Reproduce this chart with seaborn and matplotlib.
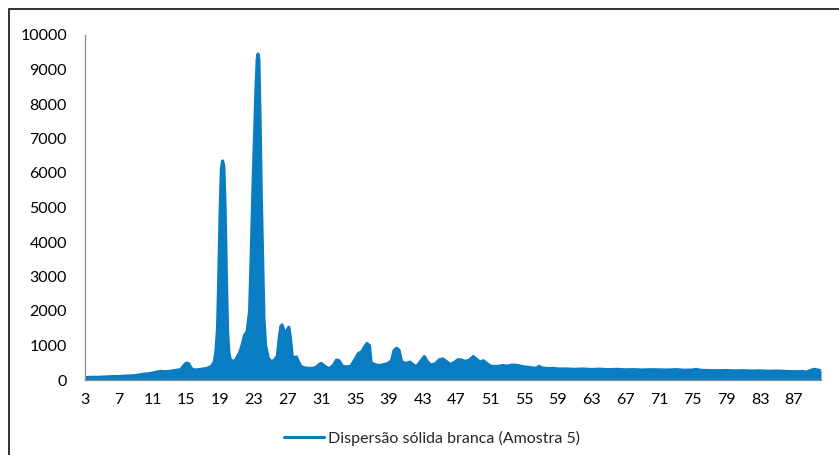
import matplotlib
matplotlib.use("Agg")
import matplotlib.pyplot as plt
import seaborn as sns
import pandas as pd
from matplotlib.patches import Rectangle

# 2-theta (degrees) and intensity (counts)
two_theta = [
    3.0, 3.5, 4.0, 4.5, 5.0, 5.5, 6.0, 6.5, 7.0, 7.5, 8.0, 8.5, 9.0, 9.5,
    10.0, 10.5, 11.0, 11.5, 12.0, 12.5, 13.0, 13.5, 14.0, 14.3, 14.6, 14.9,
    15.1, 15.3, 15.6, 16.0, 16.5, 17.0, 17.5, 18.0, 18.3, 18.5, 18.7, 18.85,
    19.0, 19.15, 19.3, 19.45, 19.6, 19.75, 19.9, 20.05, 20.2, 20.5, 20.8,
    21.1, 21.3, 21.6, 21.9, 22.2, 22.5, 22.7, 22.9, 23.1, 23.25, 23.4, 23.5,
    23.6, 23.75, 23.9, 24.05, 24.2, 24.4, 24.7, 25.0, 25.4, 25.8, 26.0, 26.2,
    26.35, 26.55, 26.75, 26.95, 27.15, 27.35, 27.55, 27.8, 28.05, 28.3, 28.6,
    29.0, 29.5, 30.0, 30.4, 30.8, 31.0, 31.3, 31.7, 32.0, 32.4, 32.8, 33.1,
    33.5, 34.0, 34.5, 35.0, 35.4, 35.8, 36.1, 36.4, 36.7, 36.9, 37.3, 37.8,
    38.3, 38.8, 39.3, 39.6, 39.9, 40.2, 40.5, 41.0, 41.5, 42.0, 42.3, 42.8,
    43.2, 43.6, 44.0, 44.5, 45.0, 45.4, 45.8, 46.3, 46.7, 47.2, 47.6, 48.0,
    48.5, 49.0, 49.4, 49.8, 50.2, 50.6, 51.0, 51.5, 52.0, 52.5, 53.0, 53.5,
    54.0, 54.5, 55.0, 55.5, 56.0, 56.5, 56.8, 57.0, 57.5, 58.0, 58.5, 59.0,
    60.0, 61.0, 62.0, 63.0, 64.0, 65.0, 66.0, 67.0, 68.0, 69.0, 70.0, 71.0,
    72.0, 73.0, 74.0, 75.0, 75.4, 76.0, 77.0, 78.0, 79.0, 80.0, 81.0, 82.0,
    83.0, 84.0, 85.0, 86.0, 87.0, 88.0, 88.5, 89.0, 89.4, 89.8, 90.2,
]
intensity = [
    70, 75, 80, 75, 85, 90, 95, 100, 100, 110, 115, 120, 130, 150,
    170, 180, 200, 230, 250, 240, 250, 270, 290, 300, 380, 470,
    490, 470, 330, 290, 300, 320, 340, 400, 520, 800, 1500, 3000,
    4800, 6100, 6350, 6200, 5000, 3000, 1400, 800, 600, 540, 560,
    700, 780, 1000, 1300, 1400, 2000, 3700, 5600, 7200, 8400, 9300, 9450,
    9300, 7500, 5200, 3500, 1800, 1000, 650, 540, 560, 700, 1200, 1550,
    1600, 1450, 1250, 1450, 1530, 1200, 700, 640, 670, 520, 390,
    350, 340, 340, 370, 460, 480, 420, 350, 340, 420, 580, 560,
    400, 380, 400, 600, 770, 820, 950, 1060, 1000, 500, 450, 420,
    440, 470, 550, 850, 920, 870, 530, 480, 520, 420, 390, 550,
    680, 520, 430, 470, 590, 610, 540, 450, 500, 590, 580, 540,
    570, 680, 600, 520, 560, 480, 410, 390, 400, 420, 400, 430,
    430, 410, 380, 370, 350, 340, 400, 360, 340, 330, 340, 320,
    320, 310, 320, 305, 315, 300, 310, 295, 300, 290, 300, 295,
    290, 300, 285, 290, 310, 280, 275, 270, 275, 265, 270, 260,
    265, 255, 260, 250, 240, 245, 230, 280, 310, 290, 270,
]
x_ticks = list(range(3, 88, 4))
y_ticks = list(range(0, 10001, 1000))
series_name = "Dispersão sólida branca (Amostra 5)"

df = pd.DataFrame({"two_theta": two_theta, "intensity": intensity})

sns.set_theme(style="white")
plt.rcParams["font.family"] = ["Lato", "DejaVu Sans"]

color = "#0a7cc1"
fig = plt.figure(figsize=(8.39, 4.55), dpi=100)
ax = fig.add_axes([85 / 839, 75 / 455, (821 - 85) / 839, 345 / 455])

ax.fill_between(df["two_theta"], df["intensity"], 0, color=color, linewidth=0)
sns.lineplot(data=df, x="two_theta", y="intensity", ax=ax, color=color,
             linewidth=2.25, label=series_name)

ax.set_xlim(3, 90.2)
ax.set_ylim(0, 10000)
ax.set_xticks(x_ticks)
ax.set_xticklabels([str(t) for t in x_ticks])
ax.set_yticks(y_ticks)
ax.set_yticklabels([str(t) for t in y_ticks])
ax.set_xlabel("")
ax.set_ylabel("")
ax.tick_params(axis="both", length=0, labelsize=11.5, colors="#000000")
ax.tick_params(axis="y", pad=13)
ax.tick_params(axis="x", pad=9)
for side in ["top", "right"]:
    ax.spines[side].set_visible(False)
for side in ["left", "bottom"]:
    ax.spines[side].set_color("#8c8c8c")
    ax.spines[side].set_linewidth(0.9)
ax.grid(False)

ax.get_legend().remove()
handles, labels = ax.get_legend_handles_labels()
fig.legend(handles, labels, loc="center", bbox_to_anchor=(432 / 839, 1 - 438 / 455),
           frameon=False, fontsize=11.5, handlelength=2.5, handletextpad=0.2)

# outer chart frame (only left and top edges visible in the reference)
fig.patches.append(Rectangle((9 / 839, -0.1), 1.2, (455 - 9) / 455 + 0.1,
                             transform=fig.transFigure, fill=False,
                             edgecolor="#222222", linewidth=1.3))

fig.savefig("out.png", dpi=100)
